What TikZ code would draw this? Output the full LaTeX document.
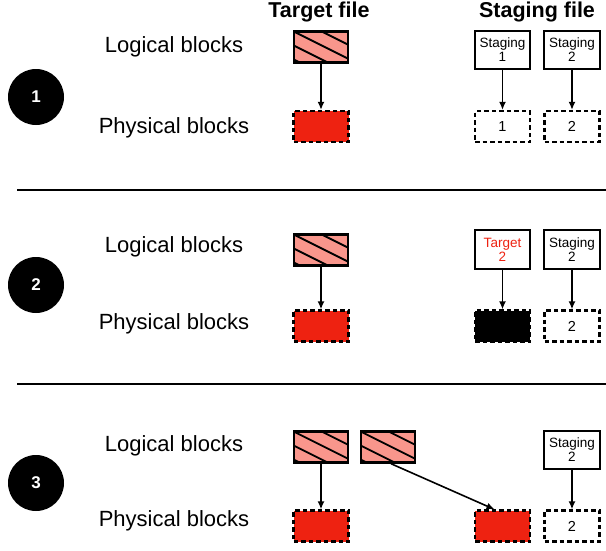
\documentclass[tikz,border=0pt]{standalone}
\usepackage{fontspec}
\setmainfont{Liberation Sans}
\usetikzlibrary{arrows.meta}
\definecolor{hatchpink}{HTML}{F9968C}
\definecolor{blockred}{HTML}{EE2211}

\begin{document}
\begin{tikzpicture}[x=1pt,y=-1pt,node distance=78pt,
        arr/.style={-{Latex[length=8pt,width=7pt]},line width=1.6pt}]
        \tikzstyle{logblk}=[draw,line width=2.4pt,fill=hatchpink,minimum width=54.5pt,minimum height=31pt,inner sep=0pt,
                path picture={\foreach \k in {-3,...,3}
                        \draw[line width=1.8pt] ([yshift=\k*14pt]path picture bounding box.north west) -- ++(80pt,-40pt);}]
        \tikzstyle{physblk}=[draw,line width=2.2pt,dash pattern=on 4.5pt off 3pt,fill=blockred,minimum width=55pt,minimum height=31pt,inner sep=0pt,
                font=\fontsize{14.5}{16}\selectfont]
        \tikzstyle{emptyblk}=[physblk,fill=white]
        \tikzstyle{darkblk}=[physblk,fill=black]
        \tikzstyle{stgbox}=[draw,line width=1.7pt,fill=white,minimum width=55.5pt,minimum height=38.5pt,inner sep=0pt,
                align=center,font=\fontsize{13.5}{14}\selectfont]
        \tikzstyle{stepnum}=[circle,fill=black,minimum size=56pt,inner sep=0pt,text=white,font=\fontsize{17}{19}\selectfont\bfseries]
        \tikzstyle{rowlabel}=[font=\fontsize{22}{24}\selectfont]
        \tikzstyle{header}=[font=\fontsize{21.5}{24}\selectfont\bfseries]

        \useasboundingbox (0,0) rectangle (606,550);

        \node[header]   (TF) at (319,12)    {Target file};
        \node[header]   (SF) at (537,12)    {Staging file};

        % step 1
        \node[stepnum]  (N1) at (36,97)     {1};
        \node[rowlabel] (LB1) at (174,47)   {Logical blocks};
        \node[rowlabel] (PB1) at (174,128)  {Physical blocks};
        \node[logblk]   (L1) at (321,47)    {};
        \node[physblk]  (P1) [below of=L1,node distance=79.5pt] {};
        \node[stgbox]   (S1a) at (502.5,50) {Staging\\1};
        \node[stgbox]   (S1b) [right of=S1a,node distance=69.5pt] {Staging\\2};
        \node[emptyblk] (E1a) [below of=S1a,node distance=76.5pt] {1};
        \node[emptyblk] (E1b) [right of=E1a,node distance=69.5pt] {2};

        \coordinate (C1a) at (17,190);
        \coordinate (C1b) at (606,190);

        % step 2
        \node[stepnum]  (N2) at (36,285)    {2};
        \node[rowlabel] (LB2) at (174,247)  {Logical blocks};
        \node[rowlabel] (PB2) at (174,324)  {Physical blocks};
        \node[logblk]   (L2) at (321,250)   {};
        \node[physblk]  (P2) [below of=L2,node distance=76pt] {};
        \node[stgbox,text=blockred] (S2a) at (502.5,249.5) {Target\\2};
        \node[stgbox]   (S2b) [right of=S2a,node distance=69.5pt] {Staging\\2};
        \node[darkblk]  (E2a) [below of=S2a,node distance=76.5pt] {};
        \node[emptyblk] (E2b) [right of=E2a,node distance=69.5pt] {2};

        \coordinate (C2a) at (17,384);
        \coordinate (C2b) at (606,384);

        % step 3
        \node[stepnum]  (N3) at (36,483)    {3};
        \node[rowlabel] (LB3) at (174,446)  {Logical blocks};
        \node[rowlabel] (PB3) at (174,521)  {Physical blocks};
        \node[logblk]   (L3a) at (321,447)  {};
        \node[logblk]   (L3b) [right of=L3a,node distance=67pt] {};
        \node[physblk]  (P3a) [below of=L3a,node distance=79pt] {};
        \node[physblk]  (P3b) at (502.5,526) {};
        \node[stgbox]   (S3b) at (572,450)  {Staging\\2};
        \node[emptyblk] (E3b) [right of=P3b,node distance=69.5pt] {2};

        \draw[line width=1.6pt] (C1a) -- (C1b);
        \draw[line width=1.6pt] (C2a) -- (C2b);

        \draw[arr] (L1) -- (P1);
        \draw[arr] (S1a) -- (E1a);
        \draw[arr] (S1b) -- (E1b);
        \draw[arr] (L2) -- (P2);
        \draw[arr] (S2a) -- (E2a);
        \draw[arr] (S2b) -- (E2b);
        \draw[arr] (L3a) -- (P3a);
        \draw[arr] ([xshift=3pt]L3b.south) -- ([xshift=-8pt]P3b.north);
        \draw[arr] (S3b) -- (E3b);
\end{tikzpicture}
\end{document}
